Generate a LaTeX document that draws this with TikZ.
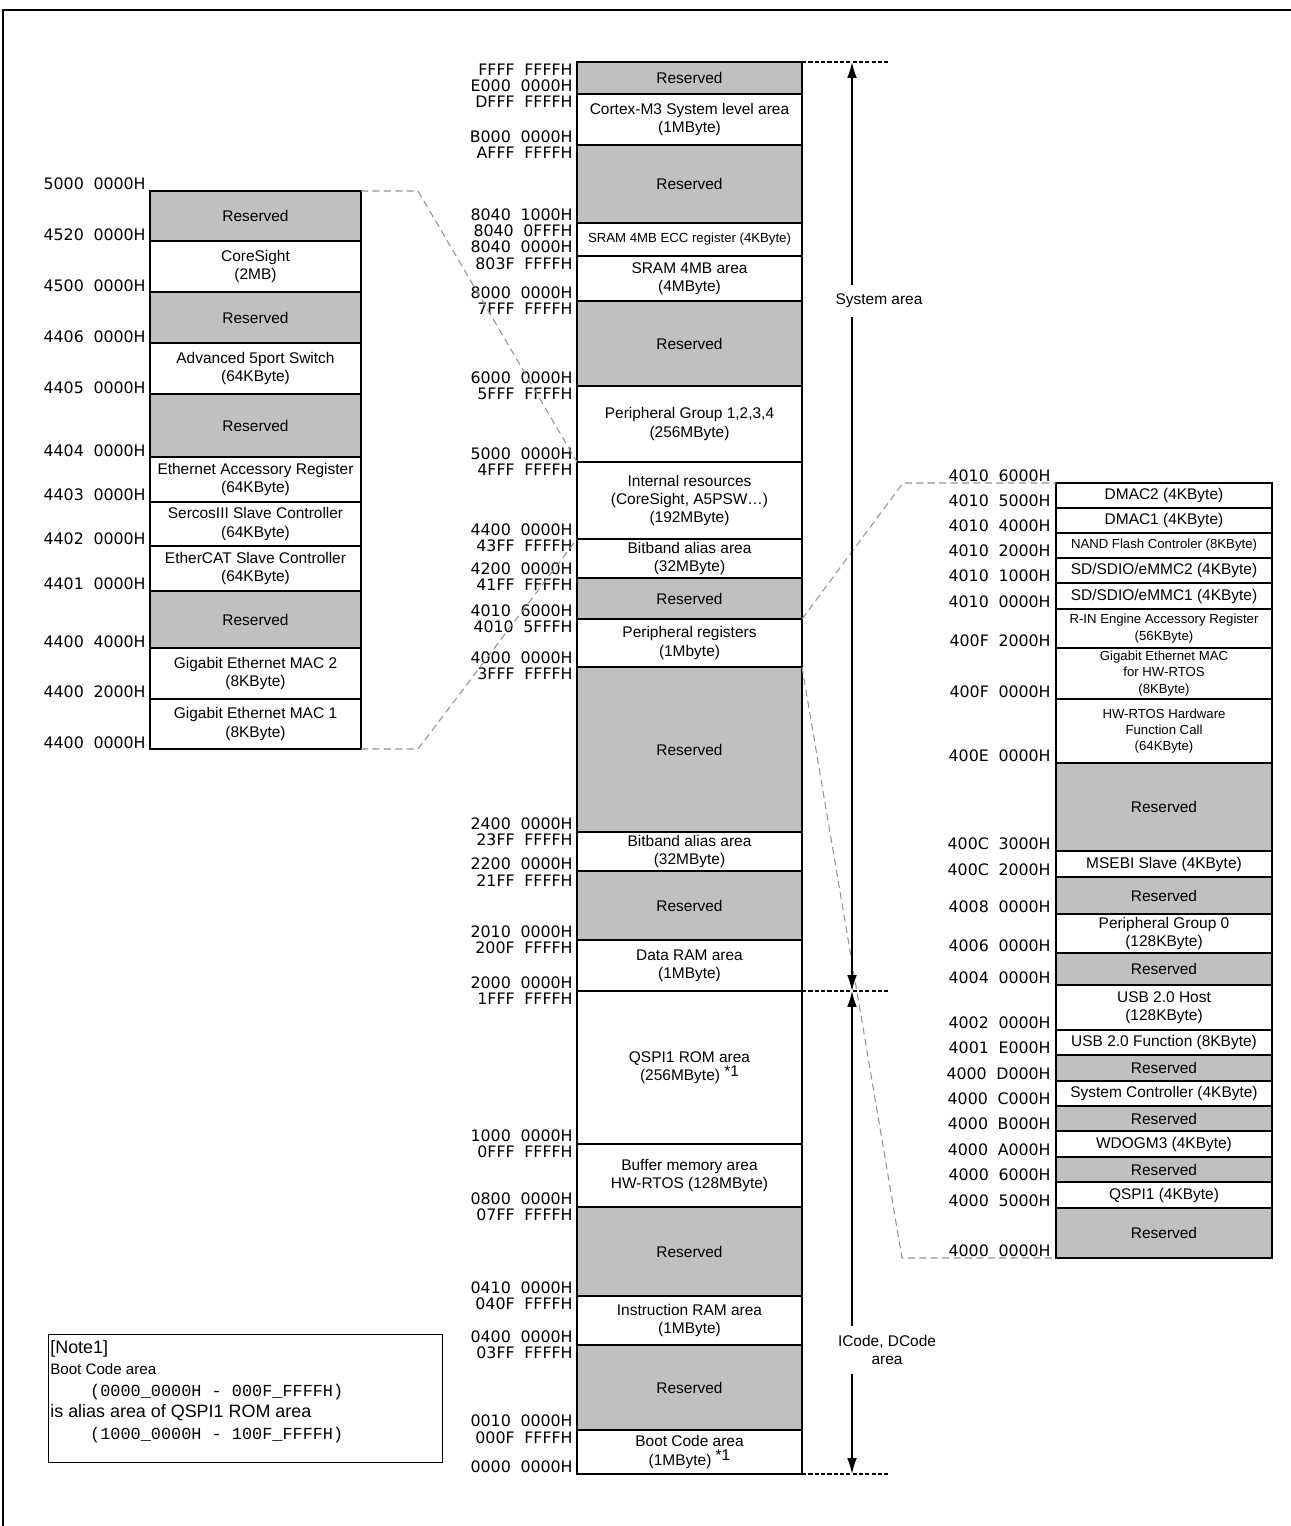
\documentclass[tikz,border=0pt]{standalone}
\usepackage{fontspec}
\setmainfont{Liberation Sans}
\newfontfamily\addrfont{DejaVu Sans}
\newfontfamily\notemono{Liberation Mono}
\usetikzlibrary{arrows.meta}
\definecolor{resgray}{RGB}{192,192,192}
\newcommand{\pxu}{0.02cm}
\newcommand{\addrgap}{\hskip 5.5pt}
\newcommand{\noteref}{\raisebox{2.5pt}{*1}}
\tikzset{
  cell/.style={draw, line width=0.7pt, inner sep=0pt, outer sep=0pt, align=center,
    font=\fontsize{8.8}{10.4}\selectfont},
  memcell/.style={cell, fill=white},
  rescell/.style={cell, fill=resgray},
  smallcell/.style={cell, fill=white, font=\fontsize{7.5}{9.2}\selectfont},
  addr/.style={anchor=east, inner sep=0pt, font=\addrfont\fontsize{9}{10}\selectfont},
  colframe/.style={line width=1.3pt},
  zoomline/.style={draw=gray!85, line width=0.6pt, dash pattern=on 4pt off 2.5pt},
  areadash/.style={line width=1.1pt, dash pattern=on 2.4pt off 1.2pt},
  areaarrow/.style={line width=0.9pt, -{Latex[length=9pt,width=5.5pt]}},
  arealabel/.style={inner xsep=1pt, inner ysep=5pt, align=center, font=\fontsize{8.8}{10.4}\selectfont}
}
\begin{document}
\begin{tikzpicture}[x=\pxu, y=-\pxu]
  \useasboundingbox (0,0) rectangle (1291,1526);
  \draw[line width=1.2pt] (3,1526) -- (3,10) -- (1291,10);

  % main map
  \foreach \nm/\ya/\yb/\kind/\txt in {
      m1/62/94/rescell/Reserved,
      m2/94/145/memcell/{Cortex-M3 System level area\\(1MByte)},
      m3/145/223/rescell/Reserved,
      m4/223/256/smallcell/{SRAM 4MB ECC register (4KByte)},
      m5/256/301/memcell/{SRAM 4MB area\\(4MByte)},
      m6/301/386/rescell/Reserved,
      m7/386/462/memcell/{Peripheral Group 1,2,3,4\\(256MByte)},
      m8/462/539/memcell/{Internal resources\\(CoreSight, A5PSW\dots)\\(192MByte)},
      m9/539/578/memcell/{Bitband alias area\\(32MByte)},
      m10/578/619/rescell/Reserved,
      m11/619/667/memcell/{Peripheral registers\\(1Mbyte)},
      m12/667/832/rescell/Reserved,
      m13/832/871/memcell/{Bitband alias area\\(32MByte)},
      m14/871/940/rescell/Reserved,
      m15/940/991/memcell/{Data RAM area\\(1MByte)},
      m16/991/1144/memcell/{QSPI1 ROM area\\(256MByte) \noteref},
      m17/1144/1207/memcell/{Buffer memory area\\HW-RTOS (128MByte)},
      m18/1207/1296/rescell/Reserved,
      m19/1296/1345/memcell/{Instruction RAM area\\(1MByte)},
      m20/1345/1430/rescell/Reserved,
      m21/1430/1474/memcell/{Boot Code area\\(1MByte) \noteref}}
    \node[\kind, minimum width={225*\pxu}, minimum height={(\yb-\ya)*\pxu}] (\nm) at (689.5,{(\ya+\yb)/2}) {\txt};
  \draw[colframe] (m1.north west) rectangle (m21.south east);

  \foreach \hi/\lo/\yy [count=\i] in {FFFF/FFFF/70, E000/0000/86, DFFF/FFFF/102,
      B000/0000/137, AFFF/FFFF/153, 8040/1000/215, 8040/0FFF/231, 8040/0000/247,
      803F/FFFF/264, 8000/0000/293, 7FFF/FFFF/309, 6000/0000/378, 5FFF/FFFF/394,
      5000/0000/454, 4FFF/FFFF/470, 4400/0000/530, 43FF/FFFF/546, 4200/0000/569,
      41FF/FFFF/585, 4010/6000/611, 4010/5FFF/627, 4000/0000/658, 3FFF/FFFF/674,
      2400/0000/824, 23FF/FFFF/840, 2200/0000/864, 21FF/FFFF/881, 2010/0000/932,
      200F/FFFF/948, 2000/0000/983, 1FFF/FFFF/999, 1000/0000/1136, 0FFF/FFFF/1152,
      0800/0000/1199, 07FF/FFFF/1215, 0410/0000/1288, 040F/FFFF/1304, 0400/0000/1337,
      03FF/FFFF/1353, 0010/0000/1421, 000F/FFFF/1438, 0000/0000/1467}
    \node[addr] (ma\i) at (573,\yy) {\hi\addrgap\lo H};

  % internal resources
  \foreach \nm/\ya/\yb/\kind/\txt in {
      l1/191/241/rescell/Reserved,
      l2/241/292/memcell/{CoreSight\\(2MB)},
      l3/292/343/rescell/Reserved,
      l4/343/394/memcell/{Advanced 5port Switch\\(64KByte)},
      l5/394/457/rescell/Reserved,
      l6/457/502/memcell/{Ethernet Accessory Register\\(64KByte)},
      l7/502/546/memcell/{SercosIII Slave Controller\\(64KByte)},
      l8/546/591/memcell/{EtherCAT Slave Controller\\(64KByte)},
      l9/591/648/rescell/Reserved,
      l10/648/699/memcell/{Gigabit Ethernet MAC 2\\(8KByte)},
      l11/699/749/memcell/{Gigabit Ethernet MAC 1\\(8KByte)}}
    \node[\kind, minimum width={211*\pxu}, minimum height={(\yb-\ya)*\pxu}] (\nm) at (255.5,{(\ya+\yb)/2}) {\txt};
  \draw[colframe] (l1.north west) rectangle (l11.south east);

  \foreach \hi/\lo/\yy [count=\i] in {5000/0000/184, 4520/0000/235, 4500/0000/286,
      4406/0000/337, 4405/0000/388, 4404/0000/451, 4403/0000/495, 4402/0000/539,
      4401/0000/584, 4400/4000/642, 4400/2000/692, 4400/0000/743}
    \node[addr] (la\i) at (146,\yy) {\hi\addrgap\lo H};

  % peripheral registers
  \foreach \nm/\ya/\yb/\kind/\txt in {
      r1/483/508/memcell/{DMAC2 (4KByte)},
      r2/508/533/memcell/{DMAC1 (4KByte)},
      r3/533/558/smallcell/{NAND Flash Controler (8KByte)},
      r4/558/583/memcell/{SD/SDIO/eMMC2 (4KByte)},
      r5/583/609/memcell/{SD/SDIO/eMMC1 (4KByte)},
      r6/609/648/smallcell/{R-IN Engine Accessory Register\\(56KByte)},
      r7/648/699/smallcell/{Gigabit Ethernet MAC\\for HW-RTOS\\(8KByte)},
      r8/699/763/smallcell/{HW-RTOS Hardware\\Function Call\\(64KByte)},
      r9/763/851/rescell/Reserved,
      r10/851/877/memcell/{MSEBI Slave (4KByte)},
      r11/877/914/rescell/Reserved,
      r12/914/953/memcell/{Peripheral Group 0\\(128KByte)},
      r13/953/985/rescell/Reserved,
      r14/985/1030/memcell/{USB 2.0 Host\\(128KByte)},
      r15/1030/1055/memcell/{USB 2.0 Function (8KByte)},
      r16/1055/1081/rescell/Reserved,
      r17/1081/1106/memcell/{System Controller (4KByte)},
      r18/1106/1131/rescell/Reserved,
      r19/1131/1157/memcell/{WDOGM3 (4KByte)},
      r20/1157/1182/rescell/Reserved,
      r21/1182/1208/memcell/{QSPI1 (4KByte)},
      r22/1208/1258/rescell/Reserved}
    \node[\kind, minimum width={216*\pxu}, minimum height={(\yb-\ya)*\pxu}] (\nm) at (1164,{(\ya+\yb)/2}) {\txt};
  \draw[colframe] (r1.north west) rectangle (r22.south east);

  \foreach \hi/\lo/\yy [count=\i] in {4010/6000/476, 4010/5000/501, 4010/4000/526,
      4010/2000/551, 4010/1000/576, 4010/0000/602, 400F/2000/641, 400F/0000/692,
      400E/0000/756, 400C/3000/844, 400C/2000/870, 4008/0000/907, 4006/0000/946,
      4004/0000/978, 4002/0000/1023, 4001/E000/1048, 4000/D000/1074, 4000/C000/1099,
      4000/B000/1124, 4000/A000/1150, 4000/6000/1175, 4000/5000/1201, 4000/0000/1251}
    \node[addr] (ra\i) at (1051,\yy) {\hi\addrgap\lo H};

  % zoom lines
  \coordinate (lbendA) at (418,191);
  \coordinate (lbendB) at (418,749);
  \coordinate (rbendA) at (903,483);
  \coordinate (rbendB) at (902,1258);
  \draw[zoomline] (l1.north east) -- (lbendA) -- (m8.north west);
  \draw[zoomline] (l11.south east) -- (lbendB) -- (m8.south west);
  \draw[zoomline] (m11.north east) -- (rbendA) -- (r1.north west);
  \draw[zoomline] (m11.south east) -- (rbendB) -- (r22.south west);

  % areas
  \coordinate (axis) at (852,0);
  \coordinate (dashend) at (890,0);
  \draw[areadash] (m1.north east) -- (m1.north east -| dashend);
  \draw[areadash] (m15.south east) -- (m15.south east -| dashend);
  \draw[areadash] (m21.south east) -- (m21.south east -| dashend);
  \node[arealabel] (sysarea) at (879,301) {System area};
  \node[arealabel] (codearea) at (887,1350) {ICode, DCode\\area};
  \draw[areaarrow] (sysarea.north -| axis) -- (m1.north east -| axis);
  \draw[areaarrow] (sysarea.south -| axis) -- (m15.south east -| axis);
  \draw[areaarrow] (codearea.north -| axis) -- (m16.north east -| axis);
  \draw[areaarrow] (codearea.south -| axis) -- (m21.south east -| axis);

  % note
  \node[draw, line width=0.6pt, anchor=north west, inner sep=0pt,
    minimum width={394*\pxu}, minimum height={128*\pxu}] (notebox) at (48,1334) {};
  \node[anchor=north west, inner sep=0pt, align=left,
    font=\fontsize{10.2}{12.2}\selectfont] (notetext) at (50,1340)
    {[Note1]\\
     {\fontsize{8.6}{12.2}\selectfont Boot Code area}\\
     \hspace*{22.7pt}{\notemono\fontsize{9.6}{12.2}\selectfont (0000\_0000H - 000F\_FFFFH)}\\
     is alias area of QSPI1 ROM area\\
     \hspace*{22.7pt}{\notemono\fontsize{9.6}{12.2}\selectfont (1000\_0000H - 100F\_FFFFH)}};
\end{tikzpicture}
\end{document}
